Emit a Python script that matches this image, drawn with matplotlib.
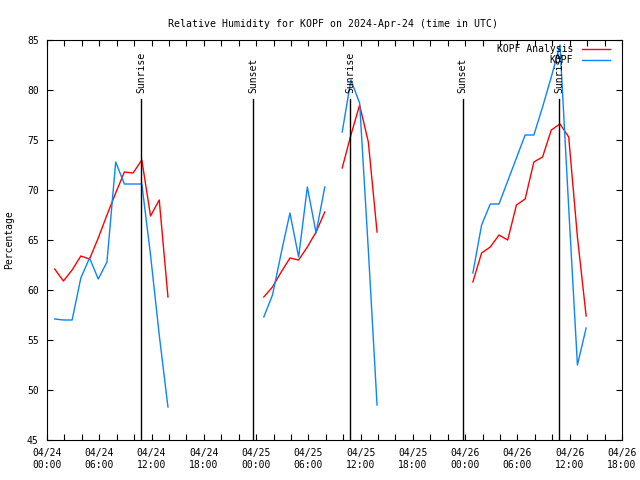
import numpy as np
import pandas as pd
import matplotlib
matplotlib.use('Agg')
import matplotlib.pyplot as plt
import matplotlib.dates as mdates

plt.rcParams['font.family'] = ['DejaVu Sans Mono']
plt.rcParams['font.size'] = 7

start = pd.Timestamp('2024-04-24 00:00')

# observation hours after start (obs come in at hh:53 of the previous hour)
hours = [1, 2, 3, 4, 5, 6, 7, 8, 9, 10, 11, 12, 13, 14,
         25, 26, 27, 28, 29, 30, 31, 32,
         34, 35, 36, 37, 38,
         49, 50, 51, 52, 53, 54, 55, 56, 57, 58, 59, 60, 61, 62]

analysis_rh = [62.1, 60.9, 62.0, 63.4, 63.1, 65.2, 67.5, 69.7, 71.8, 71.7, 73.0, 67.4, 69.0, 59.3,
               59.3, 60.3, 61.8, 63.2, 63.0, 64.3, 65.8, 67.8,
               72.2, 75.5, 78.5, 74.8, 65.8,
               60.8, 63.7, 64.3, 65.5, 65.0, 68.5, 69.1, 72.8, 73.3, 76.0, 76.6, 75.3, 65.3, 57.4]

obs_rh = [57.1, 57.0, 57.0, 61.2, 63.2, 61.1, 62.8, 72.8, 70.6, 70.6, 70.6, 63.5, 55.5, 48.3,
          57.3, 59.5, 63.7, 67.7, 63.3, 70.3, 65.7, 70.3,
          75.8, 81.0, 78.7, 64.0, 48.5,
          61.7, 66.5, 68.6, 68.6, 70.9, 73.2, 75.5, 75.5, 78.3, 81.3, 84.5, 68.2, 52.5, 56.2]

sun_events = ['Sunrise', 'Sunset', 'Sunrise', 'Sunset', 'Sunrise']
sun_times = ['2024-04-24 10:49', '2024-04-24 23:42', '2024-04-25 10:49',
             '2024-04-25 23:42', '2024-04-26 10:49']

times = start + pd.to_timedelta(hours, unit='h') - pd.Timedelta(minutes=7)

# split into runs where there is a gap in the hours
hrs = np.array(hours)
breaks = np.where(np.diff(hrs) > 1)[0] + 1
segs = np.split(np.arange(len(hrs)), breaks)

fig = plt.figure(figsize=(6.4, 4.8), dpi=100)
ax = fig.add_axes([47/640, 40/480, 575/640, 400/480])

for i, s in enumerate(segs):
    ax.plot(times[s], np.array(analysis_rh)[s], color='#ff0000', lw=1,
            label='KOPF Analysis' if i == 0 else None)
for i, s in enumerate(segs):
    ax.plot(times[s], np.array(obs_rh)[s], color='#0a84ff', lw=1,
            label='KOPF' if i == 0 else None)

for ev, t in zip(sun_events, sun_times):
    t = pd.Timestamp(t)
    ax.axvline(t, ymin=0, ymax=0.852, color='black', lw=1)
    ax.text(t, 0.8675, ev, rotation=90, ha='center', va='bottom',
            transform=ax.get_xaxis_transform())

ax.set_xlim(start, start + pd.Timedelta(hours=66))
ax.set_ylim(45, 85)
ax.set_yticks(range(45, 86, 5))
ax.xaxis.set_major_locator(mdates.HourLocator(byhour=[0, 6, 12, 18]))
ax.xaxis.set_minor_locator(mdates.HourLocator(byhour=range(0, 24, 2)))
ax.xaxis.set_major_formatter(mdates.DateFormatter('%m/%d\n%H:%M'))
ax.tick_params(which='both', direction='in', length=4, width=0.8,
               top=True, right=True, labelsize=7, pad=6)

for sp in ax.spines.values():
    sp.set_linewidth(0.8)

ax.set_ylabel('Percentage', fontsize=7, labelpad=9)
fig.suptitle('Relative Humidity for KOPF on 2024-Apr-24 (time in UTC)',
             y=0.96, x=0.52, fontsize=7.1)

ax.legend(loc='upper right', bbox_to_anchor=(0.979, 0.99), frameon=False,
          markerfirst=False, borderpad=0, borderaxespad=0, handlelength=2.9,
          handletextpad=0.9, labelspacing=0.15, fontsize=7)

fig.savefig('out.png', dpi=100)
